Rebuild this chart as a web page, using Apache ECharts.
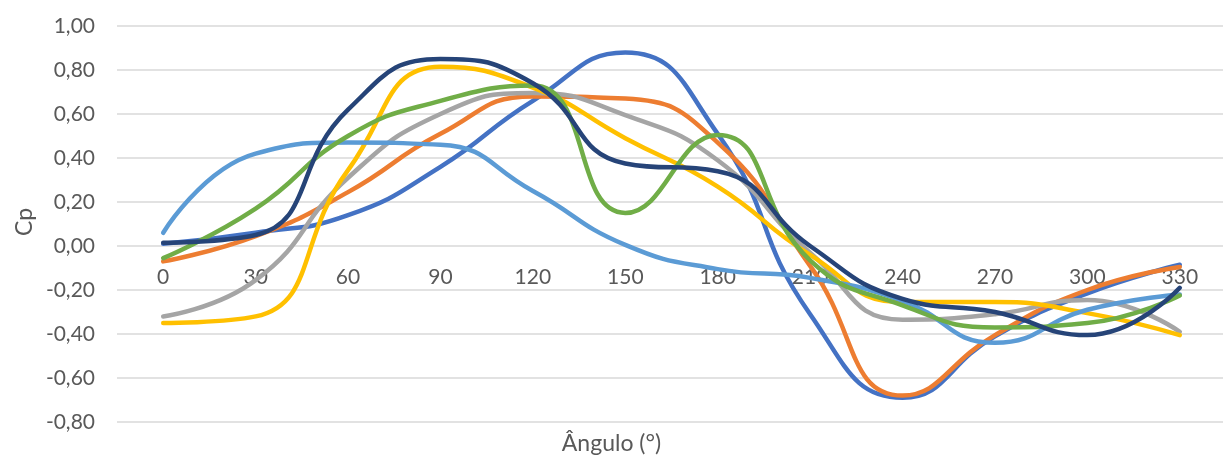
<!DOCTYPE html>
<html>
<head>
<meta charset="utf-8">
<script src="https://cdn.jsdelivr.net/npm/echarts@6/dist/echarts.min.js"></script>
<style>
html,body{margin:0;padding:0;background:#fff;}
#c{width:1223px;height:459px;}
</style>
</head>
<body>
<div id="c"></div>
<script>
const categories = ['0','30','60','90','120','150','180','210','240','270','300','330'];
const s1 = [0.01, 0.06, 0.14, 0.36, 0.66, 0.88, 0.51, -0.31, -0.69, -0.41, -0.215, -0.085];
const s2 = [-0.07, 0.045, 0.245, 0.51, 0.68, 0.67, 0.47, -0.09, -0.68, -0.405, -0.2, -0.095];
const s3 = [-0.32, -0.155, 0.31, 0.60, 0.695, 0.595, 0.39, -0.03, -0.335, -0.31, -0.245, -0.39];
const s4 = [-0.35, -0.32, 0.345, 0.815, 0.72, 0.49, 0.27, -0.04, -0.255, -0.255, -0.305, -0.405];
const s5 = [0.06, 0.42, 0.47, 0.46, 0.25, 0.005, -0.105, -0.145, -0.25, -0.44, -0.29, -0.22];
const s6 = [-0.055, 0.17, 0.50, 0.66, 0.73, 0.15, 0.505, -0.065, -0.27, -0.37, -0.35, -0.225];
const s7 = [0.015, 0.05, 0.62, 0.85, 0.74, 0.375, 0.34, 0.0, -0.24, -0.30, -0.405, -0.19];
const seriesData = [s1, s2, s3, s4, s5, s6, s7];
const colors = ['#4472C4', '#ED7D31', '#A5A5A5', '#FFC000', '#5B9BD5', '#70AD47', '#264478'];
const yTitle = 'Cp';
const xTitle = 'Ângulo (°)';

const chart = echarts.init(document.getElementById('c'), null, {renderer: 'canvas'});
const font = 'Lato, "Liberation Sans", sans-serif';
chart.setOption({
  animation: false,
  backgroundColor: '#fff',
  grid: {left: 117, right: -3, top: 26, bottom: 37, containLabel: false, outerBoundsMode: 'none'},
  xAxis: {
    type: 'category',
    data: categories,
    boundaryGap: true,
    offset: -176,
    axisLine: {show: false, onZero: false},
    axisTick: {show: false},
    axisLabel: {color: '#595959', fontSize: 21, fontFamily: font, margin: 21, interval: 0},
    splitLine: {show: false}
  },
  yAxis: {
    type: 'value',
    min: -0.8,
    max: 1.0,
    interval: 0.2,
    axisLine: {show: false},
    axisTick: {show: false},
    axisLabel: {
      color: '#595959', fontSize: 21, fontFamily: font, margin: 22,
      formatter: v => v.toFixed(2).replace('.', ',')
    },
    splitLine: {lineStyle: {color: '#D9D9D9', width: 1.5}}
  },
  graphic: [{
    type: 'text', left: 'center', top: 432,
    style: {text: xTitle, fill: '#595959', font: '23px ' + font}
  }, {
    type: 'text', x: 13, y: 236, rotation: Math.PI / 2,
    style: {text: yTitle, fill: '#595959', font: '23px ' + font}
  }],
  series: seriesData.map((d, i) => ({
    type: 'line',
    data: d,
    smooth: 0.5,
    symbol: 'none',
    lineStyle: {color: colors[i], width: 4.5, cap: 'round'},
    itemStyle: {color: colors[i]}
  }))
});
</script>
</body>
</html>
